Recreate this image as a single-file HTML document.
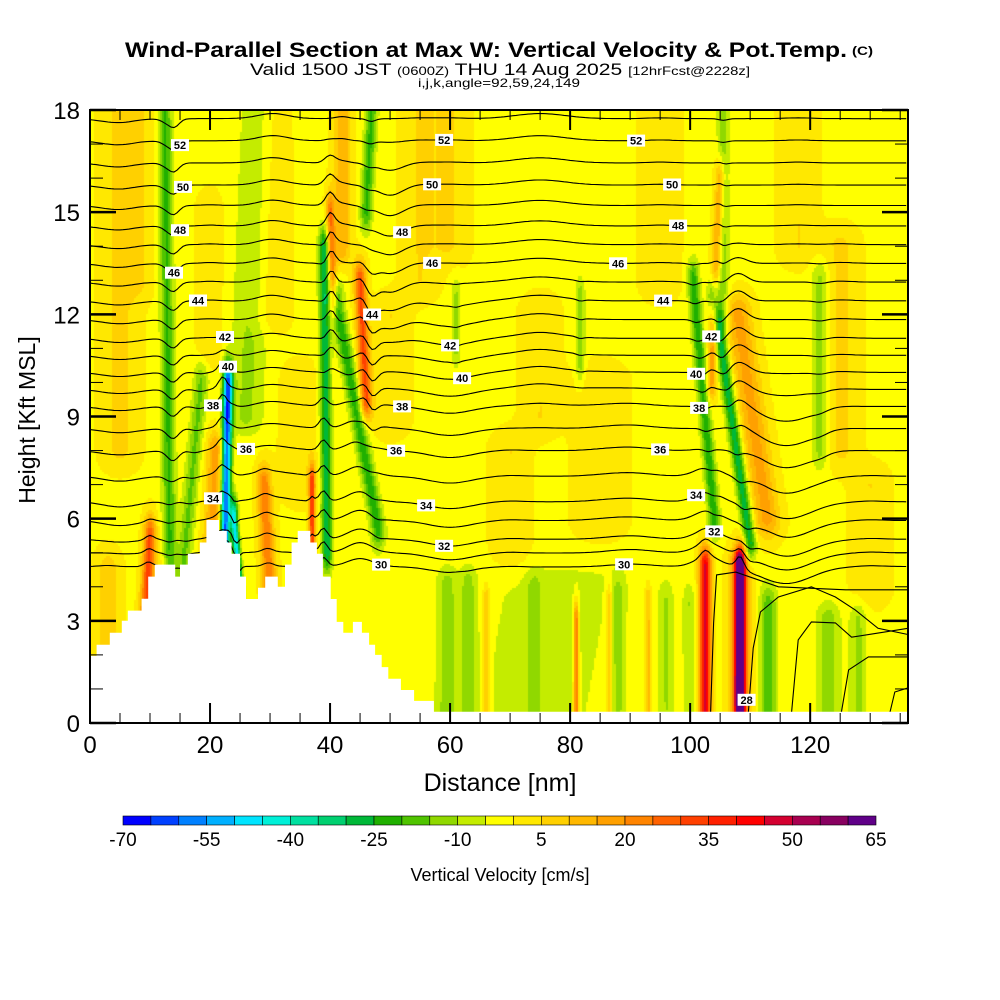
<!DOCTYPE html>
<html><head><meta charset="utf-8">
<style>
html,body{margin:0;padding:0;background:#fff;width:1000px;height:1000px;overflow:hidden}
#wrap{position:relative;width:1000px;height:1000px}
canvas{position:absolute;left:90px;top:110px}
svg{position:absolute;left:0;top:0}
text{font-family:"Liberation Sans",sans-serif}
</style></head>
<body>
<div id="wrap">
<canvas id="field" width="818" height="613"></canvas>
<svg id="svg" width="1000" height="1000" xmlns="http://www.w3.org/2000/svg">
  <g>
    <text x="125" y="57" font-size="21" font-weight="bold" textLength="722" lengthAdjust="spacingAndGlyphs">Wind-Parallel Section at Max W: Vertical Velocity &amp; Pot.Temp.</text>
    <text x="852" y="55" font-size="12" font-weight="bold" textLength="21" lengthAdjust="spacingAndGlyphs">(C)</text>
    <text x="250" y="75" font-size="17" textLength="500" lengthAdjust="spacingAndGlyphs">Valid 1500 JST <tspan font-size="12">(0600Z)</tspan> THU 14 Aug 2025 <tspan font-size="12">[12hrFcst@2228z]</tspan></text>
    <text x="418" y="87" font-size="12" textLength="162" lengthAdjust="spacingAndGlyphs">i,j,k,angle=92,59,24,149</text>
  </g>
  <g id="contours"></g>
  <g id="terrain"></g>
  <g id="clabels"></g>
  <g id="axes"></g>
  <text x="500" y="791" font-size="25" text-anchor="middle">Distance [nm]</text>
  <text transform="translate(35,420) rotate(-90)" font-size="23" text-anchor="middle">Height [Kft MSL]</text>
  <g id="cbar"></g>
  <text x="500" y="881" font-size="18" text-anchor="middle">Vertical Velocity [cm/s]</text>
</svg>
</div>
<script>
// ---------- data ----------
const xMax = 136.3, zMax = 18;
const xTicks = [0,20,40,60,80,100,120];
const yTicks = [0,3,6,9,12,15,18];
const cbarLabels = [-70,-55,-40,-25,-10,5,20,35,50,65];
const cbarColors = ["#0000ff","#0040ff","#0080ff","#00b0ff","#00e4ff","#00f0d8","#00e0a0","#00d070","#00b838","#20b000","#50c400","#90d800","#c4ec00","#ffff00","#ffe800","#ffd000","#ffb800","#ffa000","#ff8400","#ff6200","#ff4000","#ff2000","#ff0000","#d40030","#a80050","#880060","#600088"];
// vertical velocity features (cm/s): bottom x,z ; top x,z ; half-width nm ; amplitude
const wX0 = [13.3,22.5,25,26,39.5,40.5,48,15.5,9.2,20,30,37,46,42,102.5,108.3,108.3,110,104,105.5,112.8,103.5,59.5,63,74,88,96,99.8,113,123,128,81,66,86.5,93,121.7,81.7,61,46,5,30,55,85,125,74,3,12,8,20,35,60,70,95,118,50,75,130];
const wZ0 = [4.5,5.5,3.8,9,5,12.5,5.7,4.5,3,4,3.7,5,9.5,14,0.3,0.5,0.3,5.3,6,12,6,10,0.3,0.3,0.3,0.3,0.3,0.3,0.3,0.3,0.3,0.3,0.3,0.3,0.3,8,10.5,11,15,8,12,13,6,8,0.3,0.3,0.3,13,11,7,14,5,13,14,9,9,4];
const wX1 = [12.5,23,24,28,39,40,41,18.5,10,21,29,37,45,42,102.5,108.3,108.3,104,100.5,105.5,108,105,59.5,63,74,88,96,99.8,113,123,128,81,66,86.5,93,121.7,81.7,61,47,5,30,55,85,125,78,3,12,8,20,35,60,70,95,118,50,75,130];
const wZ1 = [18,10,6,18,14,15,12.4,10,5.5,8,7,7,13,18,4.6,4.5,4.6,12.5,13,18,12,16,4,4,3.8,3.8,3.5,3.5,3.5,3,3,3,3.5,3.5,3.5,13,12.5,12.5,18.2,18,18,18,10,14,4.2,4.5,4.3,18,15,10,18,8,18,18,12,12,7];
const wHW = [1.1,0.8,0.6,3,0.9,0.7,1.2,1.2,1,1.5,1.2,0.5,1,1.5,1,0.8,1.7,1,1,1,2.2,0.8,1.6,1.2,1.2,1,1.2,1,1.5,2,1.5,0.4,0.6,0.5,0.6,1.5,0.8,0.8,1,3,3,3,4,3,18,2,2,2.5,2,3,3,3,3,3,3,3,3];
const wAmp = [-20,-62,-45,-10,-28,25,-22,-15,32,18,25,35,32,15,47,70,28,-28,-22,-12,18,20,-10,-10,-9,-8,-8,-8,-16,-12,-10,30,15,14,14,-12,-12,-10,-20,7,6,6,6,7,-5,9,8,6,6,6,6,6,6,6,6,6,6];
const wBase = -1;
// terrain step profile (nm, kft)
const terrX = [0,1.1,3.3,5.3,6.3,8.6,9.7,10.8,14.2,15,16.3,18.3,19.4,21.5,22.8,23.6,25,26,28,29.2,31.3,32.5,33.6,34.6,36.7,37.8,38.8,40.1,41.1,42.2,43.8,45.3,46.5,47.5,48.6,49.7,51.8,54,57.3];
const terrZ = [1.97,2.3,2.65,3.0,3.3,3.65,4.3,4.65,4.3,4.65,4.97,5.3,5.96,5.64,5.3,4.97,4.3,3.64,3.97,4.3,4.0,4.65,5.3,5.64,5.3,4.97,4.3,3.64,2.97,2.65,2.97,2.65,2.3,2.0,1.64,1.3,0.97,0.65,0.33];
// potential temperature levels and far-field heights (kft)
const thetaKey = [29,30,32,34,36,38,40,42,44,46,48,50,52,54];
const zKey = [4.2,4.6,5.4,6.5,8.0,9.3,10.3,11.3,12.4,13.5,14.6,15.8,17.1,18.4];
const thetaLevels = [30,31,32,33,34,35,36,37,38,39,40,41,42,43,44,45,46,47,48,49,50,51,52,53];
// contour displacement features (kft)
const pX = [22.5,39,116,103,45,50,14,40,47,108,5,30,60,75,90];
const pZ0 = [5,5,4,4,5,12,8,11,9,9,6,6,5,10,5];
const pZ1 = [10,9,9,7,9,16,18,16,13,13,18,18,12,18,9];
const pAmp = [0.5,0.4,-0.5,0.3,0.3,-0.3,-0.25,0.3,-0.3,0.25,-0.15,0.15,-0.2,0.15,0.1];
const pW = [1.2,1,6,3,3,3,1.2,1.2,1.2,2,4,4,5,6,5];
// near-surface contours east (nm, kft)
const lowLinesX = [[103.4,103.9,104.4,107.6,114.7,125.9,136.3],[109.7,110.5,111.7,114.7,120.2,124.2,127.5,131.3,136.3],[116.9,118,120.2,124.2,126.9,131.3,136.3],[125.2,126.4,129.7,136.3],[133.3,134.1,136.3]];
const lowLinesZ = [[0.32,2.94,4.35,4.43,4.0,3.91,3.91],[0.32,2.2,3.26,3.7,4.0,3.7,3.32,2.78,2.6],[0.32,2.44,2.97,2.94,2.52,2.64,2.78],[0.32,1.56,1.94,1.94],[0.32,0.91,1.03]];
// contour labels (theta, x nm)
const labTheta = [52,52,52,50,50,50,48,48,48,46,46,46,44,44,44,42,42,42,40,40,40,38,38,38,36,36,36,34,34,34,32,32,30,30,28];
const labX = [15,59,91,15.5,57,97,15,52,98,14,57,88,18,47,95.5,22.5,60,103.5,23,62,101,20.5,52,101.5,26,51,95,20.5,56,101,59,104,48.5,89,109.4];

// ---------- scales ----------
const PX0=90, PX1=908, PY0=110, PY1=723;
const X = nm => PX0 + nm*(PX1-PX0)/xMax;
const Y = z => PY1 - z*(PY1-PY0)/zMax;
const NS = "http://www.w3.org/2000/svg";
function mk(tag, attrs, parent){const e=document.createElementNS(NS,tag);for(const k in attrs)e.setAttribute(k,attrs[k]);parent.appendChild(e);return e;}

// ---------- field ----------
function wAt(x,z){
  let v=wBase;
  for(let i=0;i<wAmp.length;i++){
    const z0=wZ0[i], z1=wZ1[i];
    let t=(z-z0)/(z1-z0);
    let env=1;
    const ext=0.6/(z1-z0);
    if(t<0) env=Math.exp(-Math.pow(t/ext,2)); else if(t>1) env=Math.exp(-Math.pow((t-1)/ext,2));
    if(env<0.01) continue;
    const tc=Math.min(1,Math.max(0,t));
    const xc=wX0[i]+(wX1[i]-wX0[i])*tc;
    const dx=(x-xc)/wHW[i];
    if(dx>3||dx<-3) continue;
    v+=wAmp[i]*env*Math.exp(-dx*dx);
  }
  return v;
}
function colorIdx(v){let i=Math.floor((v+70)/5);return Math.max(0,Math.min(26,i));}
const rgb = cbarColors.map(h=>[parseInt(h.substr(1,2),16),parseInt(h.substr(3,2),16),parseInt(h.substr(5,2),16)]);
(function(){
  const cv=document.getElementById('field'),ctx=cv.getContext('2d');
  const W=cv.width,H=cv.height,img=ctx.createImageData(W,H);
  const S=2;
  for(let py=0;py<H;py+=S){
    const z=(PY1-(PY0+py+S/2))*zMax/(PY1-PY0);
    for(let px=0;px<W;px+=S){
      const x=(px+S/2)*xMax/(PX1-PX0);
      const c=rgb[colorIdx(wAt(x,z))];
      for(let dy=0;dy<S&&py+dy<H;dy++)for(let dx=0;dx<S&&px+dx<W;dx++){
        const o=((py+dy)*W+px+dx)*4;img.data[o]=c[0];img.data[o+1]=c[1];img.data[o+2]=c[2];img.data[o+3]=255;
      }
    }
  }
  ctx.putImageData(img,0,0);
})();

// ---------- contours ----------
function baseZ(th){
  for(let i=0;i<thetaKey.length-1;i++){if(th<=thetaKey[i+1]){const f=(th-thetaKey[i])/(thetaKey[i+1]-thetaKey[i]);return zKey[i]+f*(zKey[i+1]-zKey[i]);}}
  return zKey[zKey.length-1];
}
function levelZ(th,x){
  const zb=baseZ(th);let z=zb;
  for(let i=0;i<pAmp.length;i++){
    const dx=(x-pX[i])/pW[i];
    let env=1;if(zb<pZ0[i])env=Math.exp(-Math.pow((pZ0[i]-zb)/0.8,2));else if(zb>pZ1[i])env=Math.exp(-Math.pow((zb-pZ1[i])/0.8,2));
    z+=pAmp[i]*env*Math.exp(-dx*dx);
  }
  z+=0.004*wAt(x,zb);
  return z;
}
const cg=document.getElementById('contours');
const clip=mk('clipPath',{id:'plotclip'},mk('defs',{},document.getElementById('svg')));
mk('rect',{x:PX0,y:PY0,width:PX1-PX0,height:PY1-PY0},clip);
cg.setAttribute('clip-path','url(#plotclip)');
thetaLevels.forEach(th=>{
  let d='';
  for(let x=0;x<=xMax+0.01;x+=0.5){d+=(x===0?'M':'L')+X(x).toFixed(1)+','+Y(levelZ(th,x)).toFixed(1);}
  const p=mk('path',{d:d,fill:'none',stroke:'#000','stroke-width':1.1},cg);
  
  
});
lowLinesX.forEach((xs,k)=>{
  const d=xs.map((x,i)=>(i?'L':'M')+X(x).toFixed(1)+','+Y(lowLinesZ[k][i]).toFixed(1)).join('');
  const p=mk('path',{d:d,fill:'none',stroke:'#000','stroke-width':1.1},cg);
  
  
});

// ---------- terrain ----------
(function(){
  const tg=document.getElementById('terrain');
  let d='M'+X(0)+','+Y(0);
  for(let i=0;i<terrX.length;i++){
    const x1=(i+1<terrX.length)?terrX[i+1]:terrX[i];
    d+='L'+X(terrX[i]).toFixed(1)+','+Y(terrZ[i]).toFixed(1)+'L'+X(x1).toFixed(1)+','+Y(terrZ[i]).toFixed(1);
  }
  d+='L'+X(xMax)+','+Y(terrZ[terrZ.length-1])+'L'+X(xMax)+','+Y(0)+'Z';
  const p=mk('path',{d:d,fill:'#fff',stroke:'none'},tg);
  
  
})();

// ---------- contour labels ----------
(function(){
  const lg=document.getElementById('clabels');
  labTheta.forEach((th,i)=>{
    const x=labX[i];
    const z=(th===28)?0.68:levelZ(th,x);
    const g=mk('g',{transform:'translate('+X(x).toFixed(1)+','+Y(z).toFixed(1)+')'},lg);
    
    
    mk('rect',{x:-9,y:-6,width:18,height:12,fill:'#fff'},g);
    const t=mk('text',{x:0,y:4,'font-size':11,'font-weight':'bold','text-anchor':'middle'},g);
    t.textContent=th;
  });
})();

// ---------- axes ----------
(function(){
  const ag=document.getElementById('axes');
  const fr=mk('rect',{x:PX0,y:PY0,width:PX1-PX0,height:PY1-PY0,fill:'none',stroke:'#000','stroke-width':2},ag);
  
  
  for(let v=0;v<=xMax;v+=5){
    const major=(v%20===0), L=major?20:10, x=X(v);
    mk('line',{x1:x,y1:PY1,x2:x,y2:PY1-L,stroke:'#000','stroke-width':major?2:1},ag);
    mk('line',{x1:x,y1:PY0,x2:x,y2:PY0+L,stroke:'#000','stroke-width':major?2:1},ag);
  }
  for(let v=0;v<=zMax;v+=1){
    const major=(v%3===0), L=major?26:13, y=Y(v);
    mk('line',{x1:PX0,y1:y,x2:PX0+L,y2:y,stroke:'#000','stroke-width':major?2.5:1},ag);
    mk('line',{x1:PX1,y1:y,x2:PX1-L,y2:y,stroke:'#000','stroke-width':major?2.5:1},ag);
  }
  xTicks.forEach(v=>{
    const t=mk('text',{x:X(v),y:753,'font-size':24,'text-anchor':'middle'},ag);
    
    
    t.textContent=v;
  });
  yTicks.forEach(v=>{
    const t=mk('text',{x:80,y:Y(v)+9,'font-size':24,'text-anchor':'end'},ag);
    
    
    t.textContent=v;
  });
})();

// ---------- colorbar ----------
(function(){
  const g=document.getElementById('cbar');
  const x0=123,x1=876,w=(x1-x0)/cbarColors.length;
  cbarColors.forEach((c,i)=>{
    const r=mk('rect',{x:(x0+i*w).toFixed(2),y:816,width:w.toFixed(2),height:9,fill:c,stroke:'#000','stroke-width':0.6},g);
    
    
  });
  cbarLabels.forEach((v)=>{
    const i=(v+70)/5;
    const t=mk('text',{x:x0+i*w,y:846,'font-size':19,'text-anchor':'middle'},g);
    
    
    t.textContent=v;
  });
})();
</script>
</body></html>
